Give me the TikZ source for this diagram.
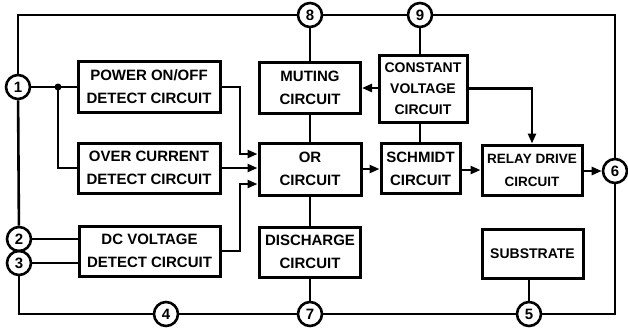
\documentclass[tikz,border=0pt]{standalone}
\usepackage{fontspec}
\setmainfont{Liberation Sans}
\usetikzlibrary{arrows.meta}
\begin{document}
\begin{tikzpicture}[x=1pt,y=-1pt,
  line width=2.6pt,
  blk/.style={draw,line width=3pt,inner sep=0pt,align=center,
    font=\fontsize{15}{23}\selectfont\bfseries},
  pin/.style={draw,circle,line width=2.6pt,minimum size=24pt,inner sep=0pt,
    font=\fontsize{15}{15}\selectfont\bfseries},
  arr/.style={-{Triangle[length=10pt,width=8pt]}},
  dot/.style={circle,fill,inner sep=0pt,minimum size=7pt}]
\useasboundingbox (0,0) rectangle (628,333);
% blocks
\node[blk,minimum width=142pt,minimum height=51pt] (pwr) at (149,87) {POWER ON/OFF\\DETECT CIRCUIT};
\node[blk,minimum width=142pt,minimum height=50pt] (ovc) at (149,168) {OVER CURRENT\\DETECT CIRCUIT};
\node[blk,minimum width=141pt,minimum height=50pt] (dcv) at (149.5,251) {DC VOLTAGE\\DETECT CIRCUIT};
\node[blk,minimum width=101pt,minimum height=51pt] (mut) at (310,88) {MUTING\\CIRCUIT};
\node[blk,minimum width=102pt,minimum height=52pt] (orc) at (310,169) {OR\\CIRCUIT};
\node[blk,minimum width=101pt,minimum height=50pt] (dis) at (310,252) {DISCHARGE\\CIRCUIT};
\node[blk,minimum width=88pt,minimum height=67pt,font=\fontsize{14}{21}\selectfont\bfseries] (cv) at (423,88.5) {CONSTANT\\VOLTAGE\\CIRCUIT};
\node[blk,minimum width=79pt,minimum height=50pt] (sch) at (420.5,168.5) {SCHMIDT\\CIRCUIT};
\node[blk,minimum width=100pt,minimum height=50pt,font=\fontsize{13.5}{23}\selectfont\bfseries] (rel) at (532,170) {RELAY DRIVE\\CIRCUIT};
\node[blk,minimum width=101pt,minimum height=49pt,font=\fontsize{14}{23}\selectfont\bfseries] (sub) at (532.5,253.5) {SUBSTRATE};
% pins
\node[pin] (p1) at (18,87) {1};
\node[pin] (p2) at (19,239) {2};
\node[pin] (p3) at (19,263) {3};
\node[pin] (p4) at (166,314) {4};
\node[pin] (p7) at (310,314) {7};
\node[pin] (p5) at (529,314) {5};
\node[pin] (p6) at (615,171) {6};
\node[pin] (p8) at (310,15) {8};
\node[pin] (p9) at (420,15) {9};
% outer ring
\draw (p1) |- (p8);
\draw (p8) -- (p9);
\draw (p9) -| (p6);
\draw (p1) -- (p2);
\draw (p3) |- (p4);
\draw (p4) -- (p7);
\draw (p7) -- (p5);
\draw (p5) -| (p6);
% pin 1 inputs
\node[dot] (j) at (58,87) {};
\draw (p1) -- (pwr.west);
\draw (j.center) |- (ovc.west);
% inputs of DC voltage
\draw (p2) -- (p2 -| dcv.west);
\draw (p3) -- (p3 -| dcv.west);
% into OR
\coordinate (a1) at (240,154);
\coordinate (a3) at (240,184);
\draw[arr] (pwr.east) -| (a1) -- (a1 -| orc.west);
\draw[arr] (ovc.east) -- (ovc.east -| orc.west);
\draw[arr] (dcv.east) -| (a3) -- (a3 -| orc.west);
% vertical chain
\draw (p8) -- (mut.north);
\draw (mut.south) -- (orc.north);
\draw (orc.south) -- (dis.north);
\draw (dis.south) -- (p7);
% constant voltage
\draw (p9) -- (p9 |- cv.north);
\draw (cv.south -| p9) -- (sch.north -| p9);
\draw[arr] (cv.west |- mut.east) -- (mut.east);
\draw[arr] (cv.east) -| (rel.north);
% signal chain
\draw[arr] (orc.east) -- (orc.east -| sch.west);
\draw[arr] (sch.east |- rel.west) -- (rel.west);
\draw[arr] (rel.east |- p6) -- (p6);
% substrate
\draw (p5) -- (p5 |- sub.south);
\end{tikzpicture}
\end{document}
